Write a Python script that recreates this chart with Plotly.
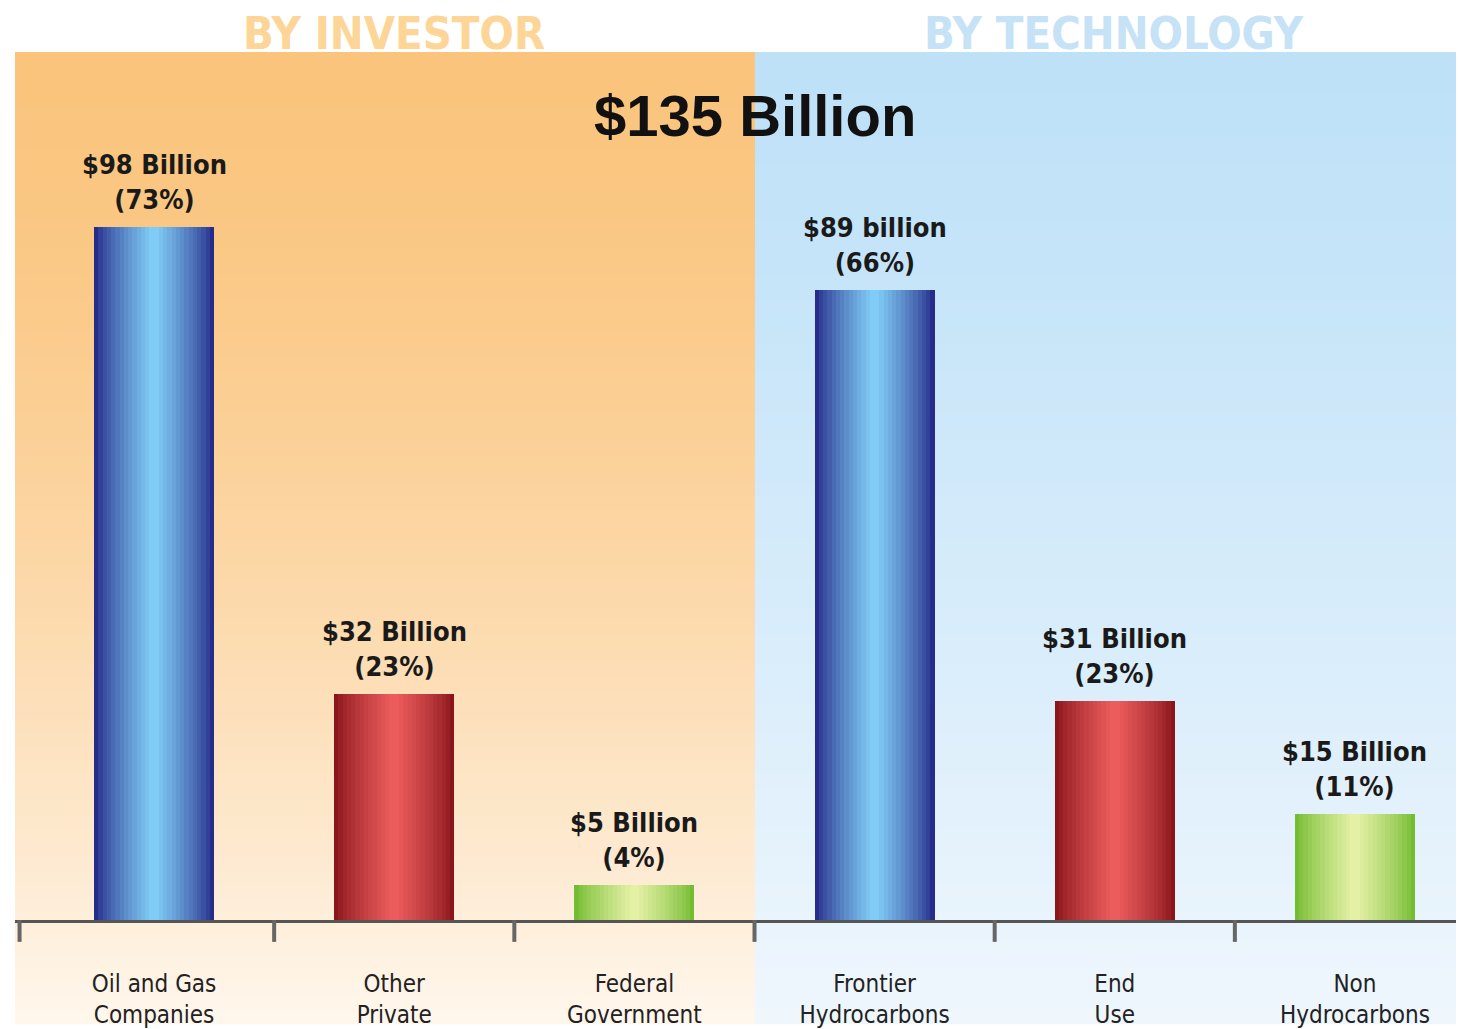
import plotly.graph_objects as go

# data
categories = ["Oil and Gas<br>Companies", "Other<br>Private", "Federal<br>Government",
              "Frontier<br>Hydrocarbons", "End<br>Use", "Non<br>Hydrocarbons"]
values = [98, 32, 5, 89, 31, 15]
value_labels = ["$98 Billion", "$32 Billion", "$5 Billion",
                "$89 billion", "$31 Billion", "$15 Billion"]
shares = ["(73%)", "(23%)", "(4%)", "(66%)", "(23%)", "(11%)"]
bar_kind = ["blue", "red", "green", "blue", "red", "green"]
panel_titles = ["BY INVESTOR", "BY TECHNOLOGY"]
total_label = "$135 Billion"

# page offset of the plot div (default body margin)
OFF = 8
W, H = 1464 - OFF, 1029 - OFF
L, T = 15 - OFF, 52 - OFF
BASE = 925 - OFF
R, B = 0, H - BASE
plot_w = W - L - R
plot_h = H - T - B
NARROW = "Liberation Sans Narrow, DejaVu Sans Condensed, Arial Narrow, sans-serif"


def px(page_x):
    return (page_x - OFF - L) / plot_w


def py(page_y):
    return (BASE - (page_y - OFF)) / plot_h


# edge -> centre colours of the "cylinder" bars
BAR_RAMP = {
    "blue": ((38, 44, 138), (128, 204, 246)),
    "red": ((138, 22, 28), (236, 92, 92)),
    "green": ((116, 188, 50), (228, 240, 164)),
}


def mix(c0, c1, t):
    return "rgb(%d,%d,%d)" % tuple(round(a + (b - a) * t) for a, b in zip(c0, c1))


fig = go.Figure()

# gradient bars: stacked overlays, narrower and lighter toward the middle
n_layers = 14
for k in range(n_layers):
    t = k / (n_layers - 1)
    width = 0.5 * (1 - t * 0.92)
    colors = [mix(*BAR_RAMP[kind], t ** 0.8) for kind in bar_kind]
    fig.add_bar(
        x=list(range(len(values))),
        y=values,
        width=width,
        marker={"color": colors, "line": {"width": 0}},
        hoverinfo="skip" if k else None,
        showlegend=False,
    )

for i, (v, lab, sh) in enumerate(zip(values, value_labels, shares)):
    fig.add_annotation(
        x=i, y=v, text=f"<b>{lab}<br>{sh}</b>", showarrow=False,
        xanchor="center", yanchor="bottom", yshift=10,
        font={"family": NARROW, "size": 27, "color": "#1a1a1a"},
    )

# background panels (vertical gradients)
split = px(755)
bottom = py(1029)
top = 1.0
n_strips = 70
panels = [
    (0.0, split, (250, 196, 124), (255, 247, 238), 1.5),
    (split, 1.0, (190, 225, 248), (240, 247, 253), 1.2),
]
for x0, x1, c_top, c_bot, curve in panels:
    for s in range(n_strips):
        y1 = top - (top - bottom) * s / n_strips
        y0 = top - (top - bottom) * (s + 1) / n_strips
        fig.add_shape(
            type="rect", xref="paper", yref="paper",
            x0=x0, x1=x1, y0=y0 - 0.001, y1=y1,
            fillcolor=mix(c_top, c_bot, (s / n_strips) ** curve),
            line={"width": 0}, layer="below",
        )

# header texts
fig.add_annotation(
    x=px(394), y=py(33), xref="paper", yref="paper",
    xanchor="center", yanchor="middle",
    text=f"<b>{panel_titles[0]}</b>", showarrow=False,
    font={"family": NARROW, "size": 45, "color": "#fcd597"},
)
fig.add_annotation(
    x=px(1114), y=py(33), xref="paper", yref="paper",
    xanchor="center", yanchor="middle",
    text=f"<b>{panel_titles[1]}</b>", showarrow=False,
    font={"family": NARROW, "size": 45, "color": "#c6e2f6"},
)
fig.add_annotation(
    x=px(755), y=py(116), xref="paper", yref="paper",
    xanchor="center", yanchor="middle",
    text=f"<b>{total_label}</b>", showarrow=False,
    font={"family": "Liberation Sans, Arial, sans-serif", "size": 58, "color": "#111"},
)

fig.update_layout(
    width=W, height=H,
    margin={"l": L, "r": R, "t": T, "b": B},
    paper_bgcolor="white",
    plot_bgcolor="rgba(0,0,0,0)",
    barmode="overlay",
    bargap=0,
    xaxis={
        "tickmode": "array",
        "tickvals": list(range(len(categories))),
        "ticktext": categories,
        "range": [-0.579, 5.454],
        "showgrid": False,
        "zeroline": False,
        "showline": True,
        "linecolor": "#555",
        "linewidth": 3,
        "ticks": "",
        "ticklabelstandoff": 40,
        "tickfont": {"family": NARROW, "size": 24, "color": "#222"},
    },
    yaxis={
        "range": [0, 122.7],
        "visible": False,
        "showgrid": False,
        "zeroline": False,
    },
)

# category boundary ticks below the axis line
for b in [-0.56, 0.5, 1.5, 2.5, 3.5, 4.5]:
    fig.add_shape(
        type="line", xref="x", yref="paper",
        x0=b, x1=b, y0=0, y1=-22 / plot_h,
        line={"color": "#666", "width": 4},
    )

fig.write_html("out.html")
